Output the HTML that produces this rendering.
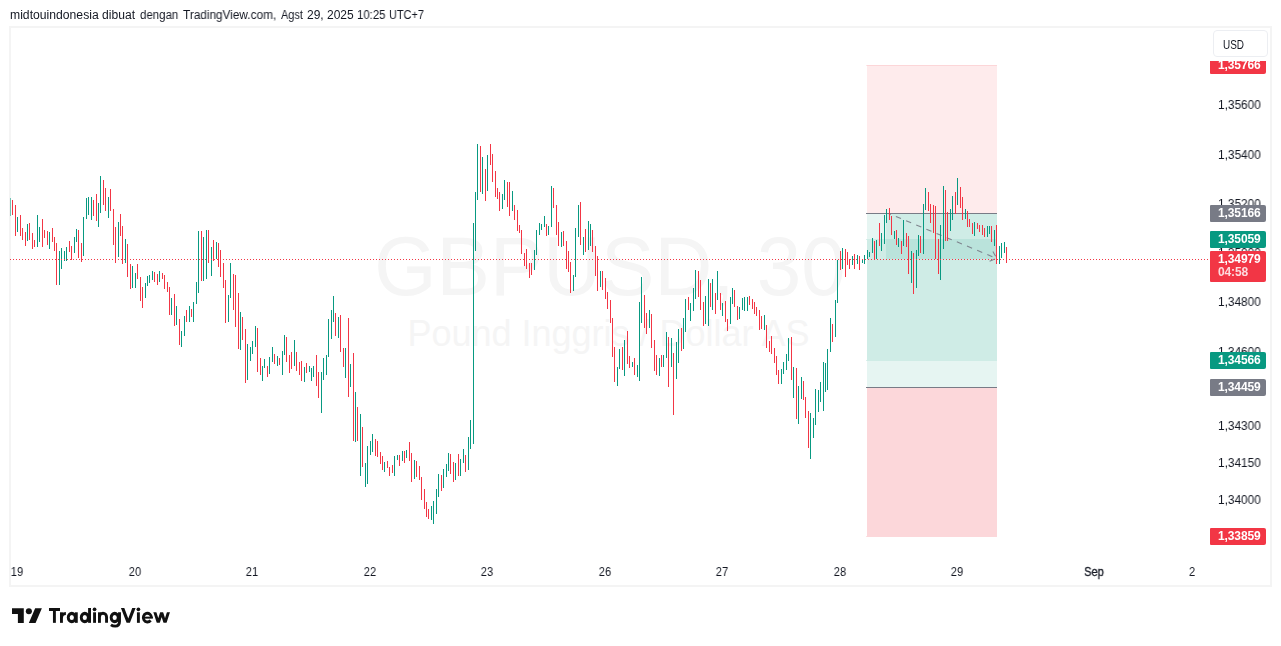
<!DOCTYPE html>
<html><head><meta charset="utf-8"><title>GBPUSD</title>
<style>
html,body{margin:0;padding:0;background:#fff;}
.hw,.pl,.tl,.tag,#usd,#tvtext{will-change:transform;}
body{width:1281px;height:646px;position:relative;overflow:hidden;font-family:"Liberation Sans",sans-serif;color:#131722;}
.abs{position:absolute;}
.hw{position:absolute;top:8px;font-size:12px;line-height:14px;white-space:nowrap;color:#131722;transform-origin:0 0;}
#frame{left:9px;top:26px;width:1259px;height:557px;border:2px solid #f4f4f4;}
.pl{position:absolute;left:1217.7px;font-size:12px;line-height:14px;white-space:nowrap;color:#131722;transform-origin:0 0;transform:scaleX(0.986);}
.tag{position:absolute;left:1210px;width:55.8px;height:16px;border-radius:1px 2px 2px 1px;color:#fff;font-weight:bold;font-size:12px;line-height:16px;text-indent:8px;letter-spacing:-0.12px;white-space:nowrap;}
.tl{position:absolute;top:564.8px;width:40px;margin-left:-20px;text-align:center;font-size:12px;line-height:14px;color:#131722;transform:scaleX(0.92);}
#usd{left:1212.5px;top:30.3px;width:52.5px;height:25px;border:1px solid #eceef2;border-radius:4px;}
#usd span{position:absolute;left:8.9px;top:7.1px;font-size:12px;line-height:14px;transform-origin:0 0;transform:scaleX(0.83);color:#131722;}
.wm{position:absolute;left:10px;width:1200px;text-align:center;color:#f5f5f5;white-space:nowrap;}
</style></head><body>
<span class="hw" style="left:9.88px;transform:scaleX(1.0151)">midtouindonesia</span><span class="hw" style="left:102.30px;transform:scaleX(1.0091)">dibuat</span><span class="hw" style="left:140.00px;transform:scaleX(0.9564)">dengan</span><span class="hw" style="left:183.00px;transform:scaleX(0.9830)">TradingView.com,</span><span class="hw" style="left:281.30px;transform:scaleX(0.9083)">Agst</span><span class="hw" style="left:306.83px;transform:scaleX(0.9733)">29,</span><span class="hw" style="left:327.02px;transform:scaleX(0.9840)">2025</span><span class="hw" style="left:357.25px;transform:scaleX(0.9483)">10:25</span><span class="hw" style="left:389.49px;transform:scaleX(0.9081)">UTC+7</span>
<div class="abs" id="frame"></div>
<div class="wm" style="top:219px;font-size:83px;line-height:96px;transform:scaleX(0.964);">GBPUSD, 30</div>
<div class="wm" style="top:313px;left:8.5px;font-size:36px;line-height:41px;">Pound Inggris / Dollar AS</div>
<svg class="abs" style="left:0;top:0" width="1281" height="646" viewBox="0 0 1281 646" shape-rendering="crispEdges">
<!-- position boxes -->
<rect x="867" y="65" width="130" height="148" fill="#f23645" fill-opacity="0.1"/>
<rect x="867" y="213" width="130" height="148" fill="#089981" fill-opacity="0.1"/>
<rect x="886" y="213" width="111" height="46" fill="#089981" fill-opacity="0.1"/>
<rect x="867" y="239" width="130" height="148" fill="#089981" fill-opacity="0.1"/>
<rect x="867" y="388" width="130" height="149" fill="#f23645" fill-opacity="0.2"/>
<rect x="866" y="213" width="131" height="1" fill="#787b86"/>
<rect x="866" y="387" width="131" height="1" fill="#787b86"/>
<rect x="866" y="65" width="131" height="1" fill="#f23645" fill-opacity="0.12"/>
<rect x="866" y="360" width="1" height="1" fill="#089981" fill-opacity="0.15"/>
<rect x="866" y="239" width="1" height="1" fill="#089981" fill-opacity="0.15"/>
<rect x="866" y="536" width="1" height="1" fill="#f23645" fill-opacity="0.15"/>
<g shape-rendering="auto" stroke="#787b86" stroke-opacity="0.9" fill="none"><path d="M888.7 213.5 L996.8 258.5" stroke-width="1.1" stroke-dasharray="5.5 5.5" stroke-dashoffset="3.2"/>
<path d="M995.6 256.3 L992.9 251.4 M994.8 258.9 L989.6 261.2" stroke-width="1.1"/></g>
<rect x="10" y="198" width="1" height="18" fill="#089981" fill-opacity="0.55"/><path d="M17 217h1v15h-1zM27 224h1v17h-1zM37 215h1v32h-1zM39 227h1v15h-1zM49 232h1v17h-1zM59 251h1v34h-1zM61 248h1v21h-1zM64 251h1v10h-1zM66 247h1v14h-1zM74 237h1v16h-1zM76 229h1v13h-1zM83 217h1v39h-1zM86 198h1v21h-1zM88 197h1v18h-1zM91 197h1v23h-1zM98 203h1v24h-1zM100 176h1v37h-1zM108 197h1v21h-1zM118 222h1v35h-1zM125 239h1v24h-1zM132 266h1v22h-1zM135 273h1v15h-1zM145 283h1v15h-1zM147 276h1v10h-1zM149 275h1v8h-1zM152 271h1v9h-1zM159 271h1v11h-1zM171 298h1v17h-1zM176 306h1v19h-1zM181 331h1v16h-1zM184 316h1v20h-1zM189 306h1v16h-1zM193 302h1v20h-1zM196 282h1v22h-1zM198 231h1v62h-1zM203 237h1v44h-1zM206 230h1v49h-1zM211 247h1v29h-1zM216 242h1v17h-1zM228 295h1v27h-1zM230 263h1v35h-1zM240 312h1v38h-1zM247 344h1v36h-1zM250 347h1v14h-1zM252 341h1v13h-1zM255 326h1v21h-1zM262 366h1v15h-1zM264 359h1v9h-1zM269 357h1v17h-1zM272 347h1v15h-1zM277 356h1v10h-1zM282 351h1v24h-1zM284 335h1v20h-1zM294 340h1v26h-1zM304 367h1v15h-1zM309 366h1v6h-1zM311 368h1v13h-1zM313 366h1v11h-1zM321 372h1v41h-1zM323 358h1v22h-1zM326 355h1v20h-1zM328 319h1v38h-1zM331 310h1v29h-1zM333 296h1v26h-1zM338 317h1v21h-1zM345 348h1v30h-1zM350 364h1v23h-1zM355 392h1v50h-1zM360 414h1v62h-1zM365 463h1v24h-1zM367 446h1v38h-1zM370 441h1v14h-1zM372 434h1v18h-1zM384 462h1v10h-1zM394 456h1v20h-1zM397 455h1v5h-1zM402 451h1v10h-1zM406 450h1v8h-1zM414 460h1v19h-1zM431 506h1v14h-1zM433 501h1v23h-1zM436 489h1v25h-1zM438 474h1v23h-1zM443 469h1v19h-1zM446 464h1v13h-1zM448 453h1v18h-1zM455 463h1v17h-1zM460 459h1v17h-1zM463 449h1v14h-1zM468 437h1v33h-1zM470 420h1v29h-1zM473 223h1v221h-1zM475 192h1v59h-1zM477 144h1v56h-1zM482 157h1v37h-1zM487 155h1v36h-1zM502 194h1v15h-1zM504 180h1v20h-1zM512 191h1v20h-1zM534 250h1v20h-1zM536 230h1v25h-1zM539 223h1v12h-1zM541 224h1v6h-1zM544 216h1v11h-1zM548 226h1v9h-1zM551 186h1v41h-1zM561 232h1v15h-1zM573 275h1v16h-1zM575 228h1v49h-1zM578 205h1v32h-1zM583 237h1v18h-1zM588 221h1v29h-1zM590 224h1v22h-1zM600 271h1v16h-1zM617 367h1v19h-1zM619 349h1v20h-1zM624 340h1v36h-1zM632 362h1v5h-1zM637 365h1v12h-1zM639 302h1v79h-1zM641 277h1v46h-1zM649 310h1v18h-1zM659 358h1v18h-1zM663 355h1v12h-1zM666 332h1v26h-1zM671 338h1v29h-1zM676 342h1v37h-1zM678 329h1v34h-1zM683 318h1v31h-1zM685 299h1v33h-1zM690 303h1v18h-1zM693 288h1v23h-1zM695 270h1v29h-1zM705 296h1v28h-1zM708 279h1v47h-1zM712 279h1v31h-1zM717 271h1v29h-1zM722 303h1v13h-1zM730 297h1v27h-1zM732 288h1v16h-1zM739 307h1v12h-1zM742 298h1v12h-1zM744 297h1v14h-1zM747 297h1v14h-1zM764 315h1v15h-1zM781 369h1v15h-1zM783 362h1v12h-1zM786 354h1v16h-1zM788 338h1v23h-1zM793 367h1v31h-1zM798 386h1v38h-1zM801 377h1v22h-1zM810 413h1v46h-1zM813 418h1v20h-1zM815 389h1v36h-1zM818 390h1v22h-1zM820 382h1v20h-1zM823 362h1v49h-1zM825 363h1v29h-1zM827 349h1v41h-1zM830 318h1v34h-1zM835 300h1v37h-1zM837 260h1v43h-1zM842 248h1v21h-1zM852 256h1v9h-1zM857 255h1v9h-1zM862 260h1v3h-1zM864 255h1v9h-1zM867 250h1v9h-1zM869 252h1v5h-1zM872 238h1v15h-1zM876 240h1v19h-1zM881 233h1v18h-1zM884 215h1v29h-1zM886 209h1v14h-1zM894 231h1v8h-1zM898 238h1v9h-1zM903 220h1v26h-1zM911 251h1v32h-1zM916 250h1v38h-1zM918 235h1v21h-1zM923 204h1v50h-1zM925 188h1v22h-1zM940 225h1v55h-1zM943 186h1v63h-1zM950 209h1v22h-1zM952 196h1v24h-1zM957 178h1v27h-1zM965 209h1v10h-1zM974 222h1v14h-1zM987 226h1v11h-1zM989 226h1v8h-1zM994 230h1v16h-1zM999 246h1v18h-1zM1001 243h1v15h-1zM1004 242h1v11h-1z" fill="#089981"/><path d="M12 200h1v15h-1zM15 205h1v31h-1zM20 215h1v21h-1zM22 228h1v12h-1zM25 232h1v14h-1zM29 223h1v17h-1zM32 233h1v16h-1zM34 240h1v7h-1zM42 219h1v28h-1zM44 230h1v8h-1zM47 231h1v14h-1zM52 228h1v14h-1zM54 237h1v14h-1zM56 243h1v42h-1zM69 241h1v11h-1zM71 246h1v14h-1zM78 230h1v28h-1zM81 243h1v19h-1zM93 200h1v16h-1zM96 194h1v27h-1zM103 180h1v25h-1zM105 188h1v23h-1zM110 189h1v22h-1zM113 209h1v36h-1zM115 227h1v36h-1zM120 214h1v22h-1zM122 226h1v38h-1zM127 244h1v33h-1zM130 264h1v25h-1zM137 264h1v15h-1zM140 277h1v24h-1zM142 287h1v21h-1zM154 272h1v10h-1zM157 274h1v11h-1zM162 273h1v6h-1zM164 275h1v14h-1zM167 282h1v10h-1zM169 287h1v28h-1zM174 294h1v32h-1zM179 319h1v26h-1zM186 310h1v12h-1zM191 309h1v8h-1zM201 231h1v50h-1zM208 230h1v33h-1zM213 240h1v21h-1zM218 243h1v24h-1zM220 250h1v27h-1zM223 263h1v25h-1zM225 280h1v43h-1zM233 274h1v36h-1zM235 275h1v52h-1zM238 293h1v56h-1zM242 317h1v23h-1zM245 329h1v54h-1zM257 328h1v44h-1zM260 358h1v17h-1zM267 366h1v11h-1zM274 354h1v10h-1zM279 358h1v7h-1zM286 337h1v25h-1zM289 355h1v18h-1zM291 352h1v17h-1zM296 352h1v19h-1zM299 362h1v13h-1zM301 361h1v20h-1zM306 363h1v10h-1zM316 355h1v31h-1zM318 372h1v26h-1zM335 313h1v23h-1zM340 315h1v37h-1zM343 348h1v19h-1zM348 318h1v79h-1zM353 353h1v88h-1zM357 407h1v34h-1zM362 427h1v40h-1zM375 439h1v17h-1zM377 441h1v16h-1zM380 452h1v12h-1zM382 456h1v14h-1zM387 461h1v7h-1zM389 467h1v9h-1zM392 465h1v8h-1zM399 455h1v11h-1zM404 451h1v12h-1zM409 442h1v19h-1zM411 453h1v29h-1zM416 461h1v16h-1zM419 466h1v14h-1zM421 477h1v23h-1zM424 489h1v20h-1zM426 502h1v15h-1zM428 509h1v10h-1zM441 475h1v16h-1zM450 454h1v20h-1zM453 462h1v20h-1zM458 454h1v22h-1zM465 455h1v17h-1zM480 146h1v46h-1zM485 169h1v32h-1zM490 144h1v21h-1zM492 154h1v28h-1zM495 171h1v26h-1zM497 188h1v11h-1zM499 192h1v19h-1zM507 182h1v25h-1zM509 182h1v34h-1zM514 205h1v15h-1zM517 210h1v21h-1zM519 225h1v8h-1zM521 230h1v24h-1zM524 253h1v13h-1zM526 249h1v20h-1zM529 263h1v15h-1zM531 263h1v12h-1zM546 224h1v12h-1zM553 188h1v20h-1zM556 205h1v30h-1zM558 222h1v24h-1zM563 231h1v15h-1zM566 241h1v28h-1zM568 251h1v21h-1zM570 262h1v31h-1zM580 202h1v43h-1zM585 229h1v23h-1zM592 230h1v22h-1zM595 246h1v30h-1zM597 256h1v35h-1zM602 271h1v19h-1zM605 278h1v21h-1zM607 292h1v17h-1zM610 300h1v23h-1zM612 318h1v39h-1zM614 347h1v35h-1zM622 347h1v23h-1zM627 331h1v33h-1zM629 356h1v12h-1zM634 358h1v17h-1zM644 295h1v33h-1zM646 313h1v21h-1zM651 314h1v34h-1zM654 340h1v31h-1zM656 355h1v20h-1zM661 355h1v12h-1zM668 337h1v50h-1zM673 353h1v62h-1zM681 328h1v23h-1zM688 297h1v13h-1zM698 271h1v26h-1zM700 280h1v30h-1zM703 302h1v24h-1zM710 283h1v24h-1zM715 293h1v21h-1zM720 293h1v17h-1zM725 301h1v21h-1zM727 319h1v12h-1zM734 290h1v17h-1zM737 306h1v14h-1zM749 296h1v9h-1zM752 299h1v10h-1zM754 302h1v12h-1zM756 307h1v9h-1zM759 310h1v20h-1zM761 316h1v13h-1zM766 325h1v23h-1zM769 341h1v11h-1zM771 336h1v18h-1zM774 348h1v15h-1zM776 356h1v19h-1zM778 370h1v14h-1zM791 337h1v43h-1zM796 368h1v51h-1zM803 381h1v19h-1zM805 397h1v21h-1zM808 411h1v37h-1zM832 324h1v18h-1zM840 251h1v19h-1zM845 249h1v28h-1zM847 252h1v13h-1zM849 259h1v10h-1zM854 254h1v15h-1zM859 256h1v14h-1zM874 241h1v19h-1zM879 223h1v23h-1zM889 208h1v12h-1zM891 216h1v19h-1zM896 230h1v15h-1zM901 241h1v13h-1zM906 233h1v14h-1zM908 236h1v38h-1zM913 253h1v41h-1zM920 236h1v17h-1zM928 192h1v19h-1zM930 204h1v19h-1zM933 205h1v28h-1zM935 206h1v53h-1zM938 239h1v35h-1zM945 190h1v51h-1zM947 212h1v29h-1zM955 192h1v22h-1zM960 187h1v21h-1zM962 197h1v23h-1zM967 211h1v16h-1zM969 219h1v8h-1zM972 223h1v11h-1zM977 223h1v6h-1zM979 225h1v7h-1zM982 225h1v10h-1zM984 228h1v9h-1zM991 226h1v16h-1zM996 225h1v39h-1zM1006 247h1v16h-1z" fill="#f23645"/>
<!-- price line dotted -->
<path d="M10 259.5H1210" stroke="#f23645" stroke-width="1" stroke-dasharray="1 2" fill="none"/>
</svg>
<div class="pl" style="top:97.6px">1,35600</div>
<div class="pl" style="top:147.7px">1,35400</div>
<div class="pl" style="top:196.9px">1,35200</div>
<div class="pl" style="top:246.4px">1,35000</div>
<div class="pl" style="top:295.1px">1,34800</div>
<div class="pl" style="top:345.2px">1,34600</div>
<div class="pl" style="top:419.1px">1,34300</div>
<div class="pl" style="top:456.1px">1,34150</div>
<div class="pl" style="top:493.0px">1,34000</div>
<div class="abs" style="left:1210px;top:61px;width:56px;height:12.8px;overflow:hidden"><div class="tag" style="left:0;top:-3.8px;height:16.6px;line-height:16.400000000000002px;background:#f23645">1,35766</div></div>
<div class="tag" style="top:205.1px;height:16.6px;line-height:16.400000000000002px;background:#787b86">1,35166</div>
<div class="tag" style="top:231.0px;height:16.6px;line-height:16.400000000000002px;background:#089981">1,35059</div>
<div class="tag" style="top:352.1px;height:16.6px;line-height:16.400000000000002px;background:#089981">1,34566</div>
<div class="tag" style="top:379.0px;height:16.6px;line-height:16.400000000000002px;background:#787b86">1,34459</div>
<div class="tag" style="top:528.1px;height:16.6px;line-height:16.400000000000002px;background:#f23645">1,33859</div>
<div class="tag" style="top:251.1px;height:30.7px;background:#f23645;line-height:14px;"><div style="padding-top:0.9px;height:13.6px">1,34979</div><div style="color:rgba(255,255,255,0.82)">04:58</div></div>
<div class="abs" id="usd"><span>USD</span></div>
<div class="tl" style="left:16.7px">19</div>
<div class="tl" style="left:135px">20</div>
<div class="tl" style="left:252.4px">21</div>
<div class="tl" style="left:369.8px">22</div>
<div class="tl" style="left:487.2px">23</div>
<div class="tl" style="left:604.6px">26</div>
<div class="tl" style="left:722px">27</div>
<div class="tl" style="left:839.5px">28</div>
<div class="tl" style="left:956.8px">29</div>
<div class="tl" style="left:1094.3px"><span style="-webkit-text-stroke:0.3px #131722">Sep</span></div>
<div class="tl" style="left:1191.7px">2</div>
<svg class="abs" style="left:12px;top:604.78px" width="30.3" height="22.83" viewBox="0 0 36 28" preserveAspectRatio="none"><path d="M14 22H7V11H0V4h14v18zM28 22h-8l7.5-18h8L28 22z" fill="#111"/><circle cx="20.05" cy="7.6" r="3.6" fill="#111"/></svg>
<svg class="abs" style="left:0;top:0" width="1281" height="646" viewBox="0 0 1281 646"><g fill="#111"><rect x="48.99" y="608.0" width="11.0" height="3.0"/><rect x="52.96" y="608.0" width="2.9" height="14.84"/><rect x="60.0" y="612.3" width="2.9" height="10.54"/><path d="M61.45 618.2 C61.45 615 63.0 613.55 65.9 613.55" fill="none" stroke="#111" stroke-width="3.0"/><path fill-rule="evenodd" d="M66.8 617.5 A5.0 5.75 0 1 0 76.8 617.5 A5.0 5.75 0 1 0 66.8 617.5ZM69.67999999999999 617.5 A2.12 2.5 0 1 0 73.92 617.5 A2.12 2.5 0 1 0 69.67999999999999 617.5Z"/><rect x="74.85" y="612.3" width="2.9" height="10.54"/><path fill-rule="evenodd" d="M79.8 617.5 A5.0 5.75 0 1 0 89.8 617.5 A5.0 5.75 0 1 0 79.8 617.5ZM82.67999999999999 617.5 A2.12 2.5 0 1 0 86.92 617.5 A2.12 2.5 0 1 0 82.67999999999999 617.5Z"/><rect x="88.1" y="608.0" width="2.9" height="14.84"/><rect x="93.1" y="612.3" width="2.9" height="10.54"/><circle cx="94.55" cy="609.3" r="1.85"/><rect x="98.0" y="612.3" width="2.9" height="10.54"/><path d="M106.55 622.84 V616.9 A3.55 3.65 0 0 0 99.45 616.9" fill="none" stroke="#111" stroke-width="2.9"/><path fill-rule="evenodd" d="M109.7 617.5 A5.0 5.75 0 1 0 119.7 617.5 A5.0 5.75 0 1 0 109.7 617.5ZM112.58 617.5 A2.12 2.5 0 1 0 116.82000000000001 617.5 A2.12 2.5 0 1 0 112.58 617.5Z"/><path d="M119.5 612.3 V621.6 C119.5 625 117.8 626.15 115.2 626.15 C113.5 626.15 112.2 625.8 110.9 624.9" fill="none" stroke="#111" stroke-width="2.9"/><path d="M120.94 608.0 L124.3 608.0 L128.27 618.4 L132.24 608.0 L135.6 608.0 L129.95 622.84 L126.59 622.84 Z"/><rect x="136.95" y="612.3" width="2.9" height="10.54"/><circle cx="138.4" cy="609.3" r="1.85"/><path d="M151.45 617.9 A4.1 4.35 0 1 0 150.6 620.3" fill="none" stroke="#111" stroke-width="2.85"/><rect x="144" y="616.65" width="8.85" height="2.0"/><clipPath id="wc"><rect x="150" y="612.3" width="25" height="10.54"/></clipPath><path d="M154.26 610.30 L158.28 622.84 L161.65 612.30 L165.03 622.84 L169.04 610.30" fill="none" stroke="#111" stroke-width="2.90" stroke-linejoin="miter" stroke-miterlimit="20" clip-path="url(#wc)"/></g></svg>
</body></html>
